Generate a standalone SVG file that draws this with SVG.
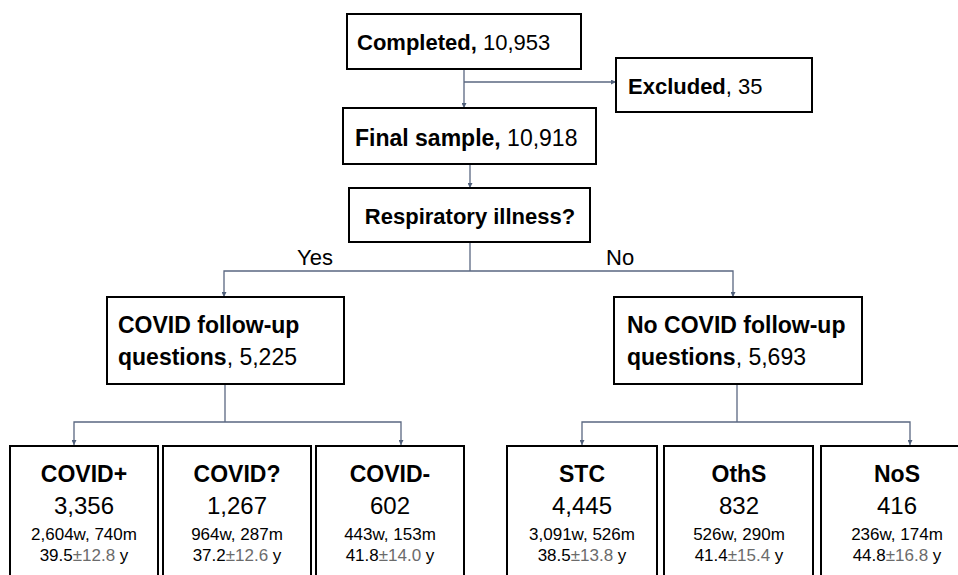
<svg xmlns="http://www.w3.org/2000/svg" width="958" height="575" viewBox="0 0 958 575">
<defs>
<marker id="ah" viewBox="0 0 10 10" refX="10" refY="5" markerWidth="5" markerHeight="5" markerUnits="userSpaceOnUse" orient="auto">
<path d="M0,0 L10,5 L0,10 z" fill="#4f5f7a"/>
</marker>
<style>
.box{fill:#fff;stroke:#000;stroke-width:2}
.t{font-family:"Liberation Sans",Arial,sans-serif;fill:#000}
.b{font-weight:bold}
.c{fill:none;stroke:#5a6781;stroke-width:1.3}
.ca{fill:none;stroke:#5a6781;stroke-width:1.3;marker-end:url(#ah)}
.g{fill:#6b6b6b}
.m{text-anchor:middle}
.s{font-size:17px}
</style>
</defs>
<rect width="958" height="575" fill="#fff"/>
<g id="connectors">
<path class="ca" d="M464,69 V108"/>
<path class="ca" d="M464,82 H616"/>
<path class="ca" d="M470,164 V188"/>
<path class="c" d="M470,242 V271"/>
<path class="ca" d="M470,271 H224 V297"/>
<path class="ca" d="M470,271 H733 V297"/>
<path class="c" d="M225,384 V422"/>
<path class="ca" d="M225,422 H74 V445"/>
<path class="ca" d="M225,422 H401 V445"/>
<path class="c" d="M737,384 V422"/>
<path class="ca" d="M737,422 H582 V445"/>
<path class="ca" d="M737,422 H910 V445"/>
<text class="t" x="297" y="265" font-size="22">Yes</text>
<text class="t" x="606" y="265" font-size="22">No</text>
</g>
<g id="completed">
<rect class="box" x="347" y="14" width="234" height="55"/>
<text class="t" x="357" y="50" font-size="22"><tspan class="b">Completed,</tspan> 10,953</text>
</g>
<g id="excluded">
<rect class="box" x="616" y="58" width="196" height="54"/>
<text class="t" x="628" y="94" font-size="22"><tspan class="b">Excluded</tspan>, 35</text>
</g>
<g id="final">
<rect class="box" x="343" y="108" width="253" height="56"/>
<text class="t" x="355" y="146" font-size="23"><tspan class="b">Final sample,</tspan> 10,918</text>
</g>
<g id="respiratory">
<rect class="box" x="349" y="188" width="241" height="54"/>
<text class="t b m" x="470" y="224" font-size="22">Respiratory illness?</text>
</g>
<g id="covid-followup">
<rect class="box" x="107" y="297" width="237" height="87"/>
<text class="t b" x="118" y="333" font-size="23">COVID follow-up</text>
<text class="t" x="118" y="365" font-size="23"><tspan class="b">questions</tspan>, 5,225</text>
</g>
<g id="no-covid-followup">
<rect class="box" x="614" y="297" width="248" height="87"/>
<text class="t b" x="627" y="333" font-size="23">No COVID follow-up</text>
<text class="t" x="627" y="365" font-size="23"><tspan class="b">questions</tspan>, 5,693</text>
</g>
<g id="covid-pos">
<rect class="box" x="10" y="446" width="148" height="140"/>
<text class="t b m" x="84" y="482" font-size="23">COVID+</text>
<text class="t m" x="84" y="514" font-size="24">3,356</text>
<text class="t m s" x="84" y="540">2,604w, 740m</text>
<text class="t m s" x="84" y="561">39.5<tspan class="g">±12.8</tspan> y</text>
</g>
<g id="covid-unk">
<rect class="box" x="163" y="446" width="148" height="140"/>
<text class="t b m" x="237" y="482" font-size="23">COVID?</text>
<text class="t m" x="237" y="514" font-size="24">1,267</text>
<text class="t m s" x="237" y="540">964w, 287m</text>
<text class="t m s" x="237" y="561">37.2<tspan class="g">±12.6</tspan> y</text>
</g>
<g id="covid-neg">
<rect class="box" x="316" y="446" width="148" height="140"/>
<text class="t b m" x="390" y="482" font-size="23">COVID-</text>
<text class="t m" x="390" y="514" font-size="24">602</text>
<text class="t m s" x="390" y="540">443w, 153m</text>
<text class="t m s" x="390" y="561">41.8<tspan class="g">±14.0</tspan> y</text>
</g>
<g id="stc">
<rect class="box" x="507" y="446" width="150" height="140"/>
<text class="t b m" x="582" y="482" font-size="23">STC</text>
<text class="t m" x="582" y="514" font-size="24">4,445</text>
<text class="t m s" x="582" y="540">3,091w, 526m</text>
<text class="t m s" x="582" y="561">38.5<tspan class="g">±13.8</tspan> y</text>
</g>
<g id="oths">
<rect class="box" x="664" y="446" width="149" height="140"/>
<text class="t b m" x="739" y="482" font-size="23">OthS</text>
<text class="t m" x="739" y="514" font-size="24">832</text>
<text class="t m s" x="739" y="540">526w, 290m</text>
<text class="t m s" x="739" y="561">41.4<tspan class="g">±15.4</tspan> y</text>
</g>
<g id="nos">
<rect class="box" x="821" y="446" width="152" height="140"/>
<text class="t b m" x="897" y="482" font-size="23">NoS</text>
<text class="t m" x="897" y="514" font-size="24">416</text>
<text class="t m s" x="897" y="540">236w, 174m</text>
<text class="t m s" x="897" y="561">44.8<tspan class="g">±16.8</tspan> y</text>
</g>
</svg>
